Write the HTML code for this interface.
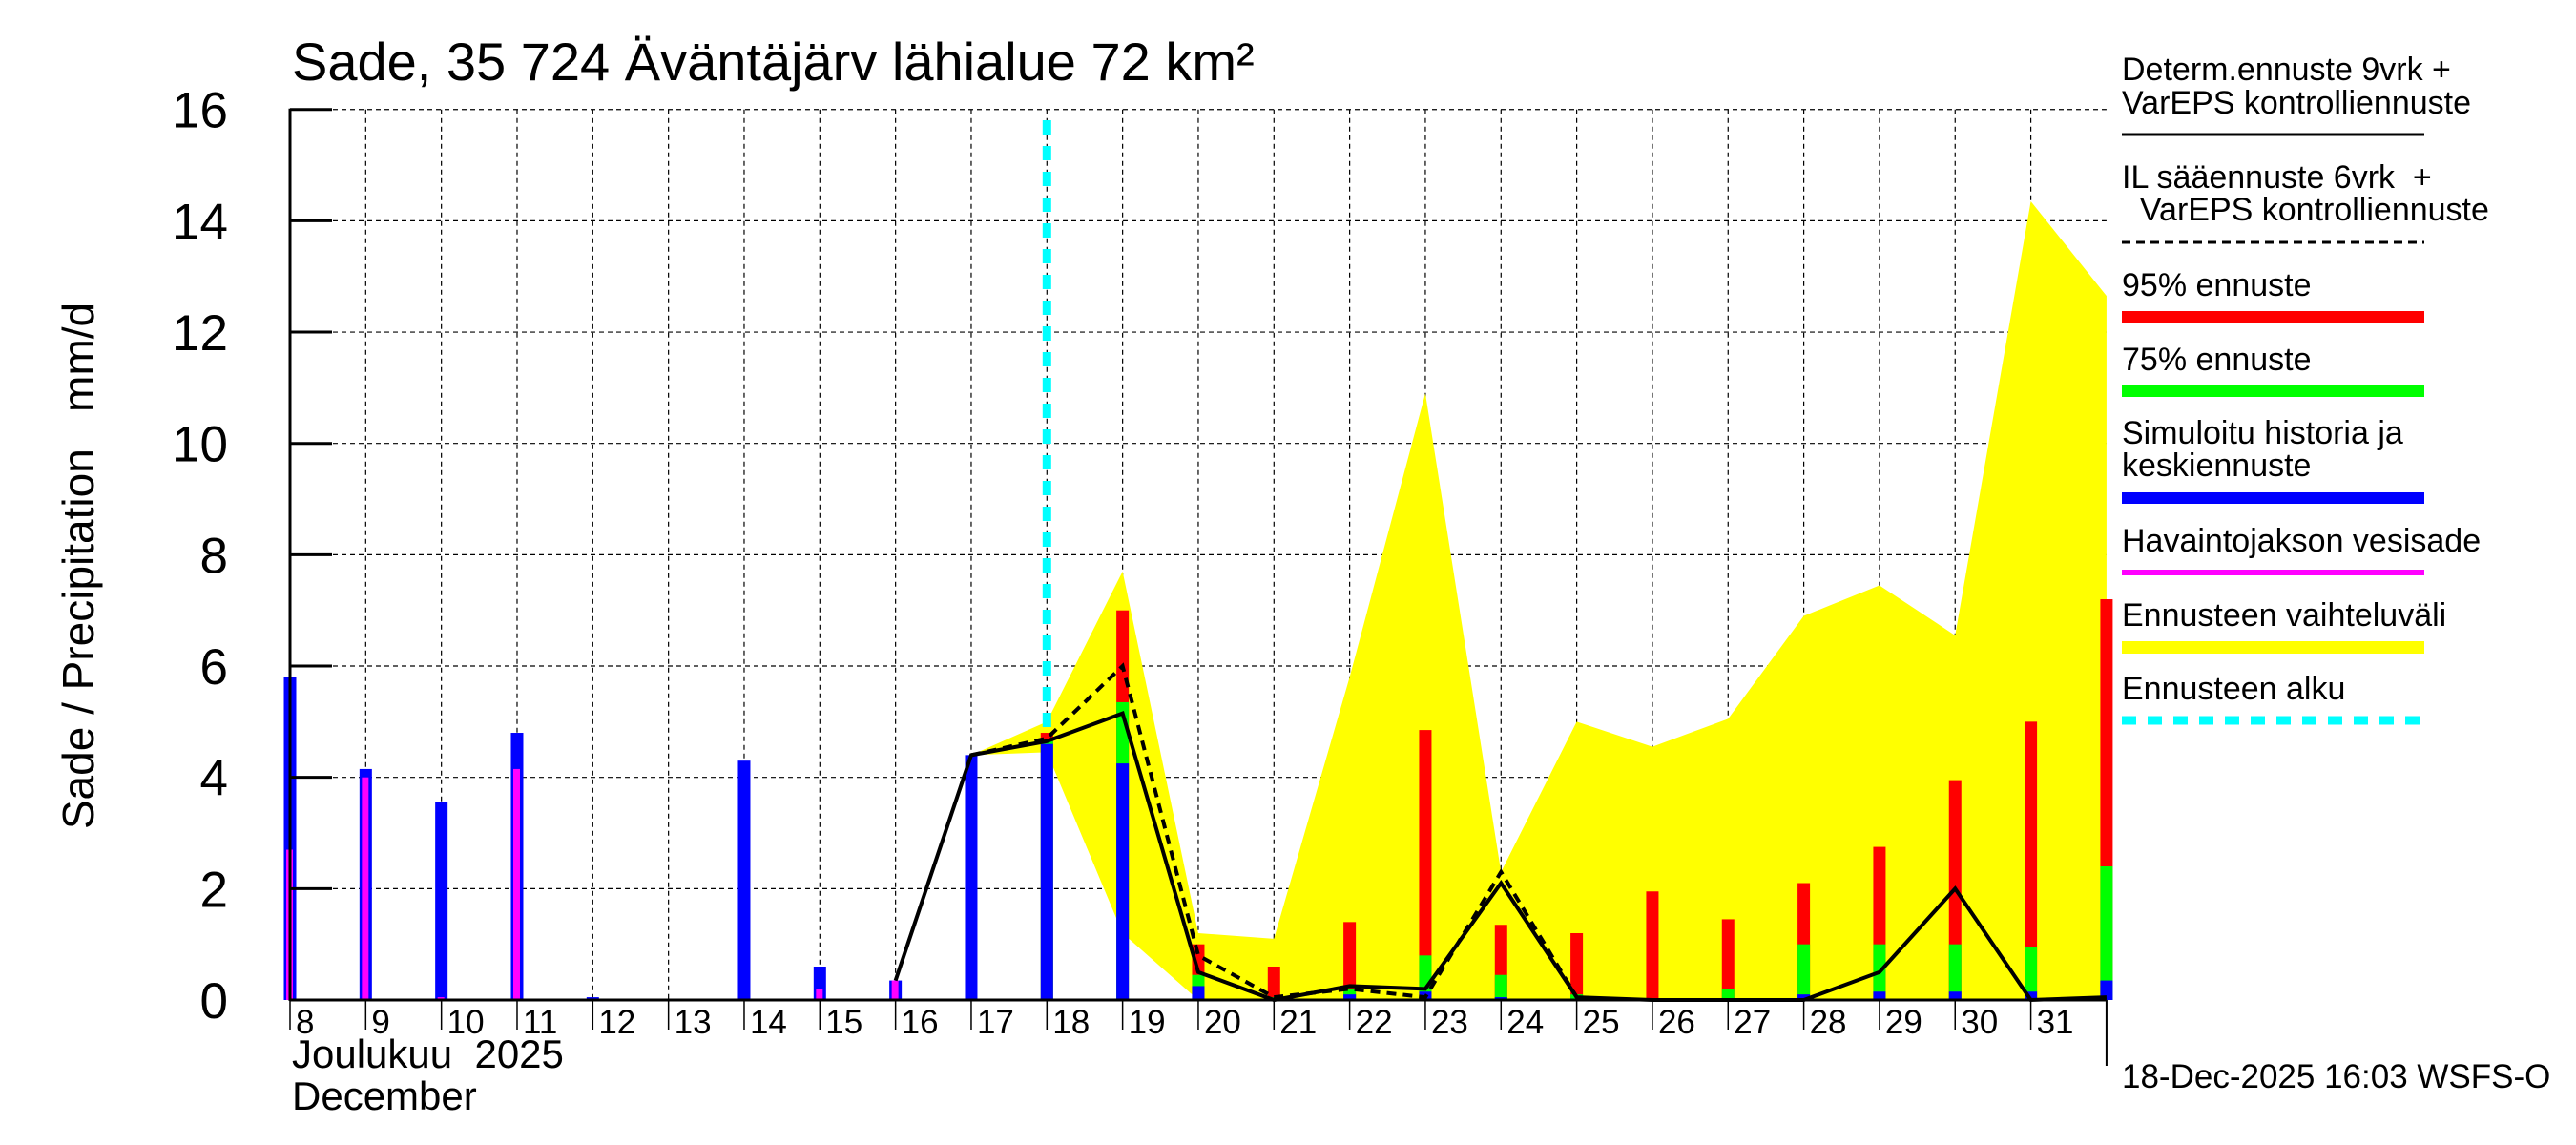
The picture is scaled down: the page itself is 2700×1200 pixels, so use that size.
<!DOCTYPE html>
<html><head><meta charset="utf-8"><style>
html,body{margin:0;padding:0;background:#fff;}
svg{display:block;font-family:"Liberation Sans",sans-serif;}
text{white-space:pre;}
</style></head><body>
<svg id="chart" width="2700" height="1200" viewBox="0 0 2700 1200" xmlns="http://www.w3.org/2000/svg" xml:space="preserve">
<text x="306" y="84" font-size="56">Sade, 35 724 Äväntäjärv lähialue 72 km²</text>
<text transform="translate(98,593) rotate(-90)" text-anchor="middle" font-size="46">Sade / Precipitation   mm/d</text>
<text x="306" y="1119" font-size="42">Joulukuu  2025</text>
<text x="306" y="1163" font-size="42">December</text>
<text x="2224" y="1140" font-size="35">18-Dec-2025 16:03 WSFS-O</text>
<g font-size="34">
<text x="2224" y="84">Determ.ennuste 9vrk +</text>
<text x="2224" y="119">VarEPS kontrolliennuste</text>
<line x1="2224" y1="141" x2="2541" y2="141" stroke="#000" stroke-width="3"/>
<text x="2224" y="197">IL sääennuste 6vrk  +</text>
<text x="2224" y="231">  VarEPS kontrolliennuste</text>
<line x1="2224" y1="254" x2="2541" y2="254" stroke="#000" stroke-width="3" stroke-dasharray="9,6"/>
<text x="2224" y="310">95% ennuste</text>
<rect x="2224" y="326" width="317" height="13" fill="#ff0000"/>
<text x="2224" y="388">75% ennuste</text>
<rect x="2224" y="403" width="317" height="13" fill="#00ff00"/>
<text x="2224" y="465">Simuloitu historia ja</text>
<text x="2224" y="499">keskiennuste</text>
<rect x="2224" y="516" width="317" height="12" fill="#0000ff"/>
<text x="2224" y="578">Havaintojakson vesisade</text>
<rect x="2224" y="597" width="317" height="6" fill="#ff00ff"/>
<text x="2224" y="656">Ennusteen vaihteluväli</text>
<rect x="2224" y="672" width="317" height="13" fill="#ffff00"/>
<text x="2224" y="733">Ennusteen alku</text>
<line x1="2224" y1="755" x2="2541" y2="755" stroke="#00ffff" stroke-width="9" stroke-dasharray="15,12"/>
</g>
<g id="plot"></g>
</svg>
<script>
const days = [8,9,10,11,12,13,14,15,16,17,18,19,20,21,22,23,24,25,26,27,28,29,30,31,32];
const blueVals = [5.8,4.15,3.55,4.8,0.05,0,4.3,0.6,0.35,4.4,4.6,4.25,0.25,0.02,0.1,0.15,0.05,0.02,0,0.02,0.1,0.15,0.15,0.15,0.35];
const greenVals = [0,0,0,0,0,0,0,0,0,0,4.65,5.35,0.45,0.05,0.2,0.8,0.45,0.1,0.02,0.2,1.0,1.0,1.0,0.95,2.4];
const redVals = [0,0,0,0,0,0,0,0,0,0,4.8,7.0,1.0,0.6,1.4,4.85,1.35,1.2,1.95,1.45,2.1,2.75,3.95,5.0,7.2];
const magentaVals = [2.7,4.0,0.05,4.15,0,0,0,0.2,0.35,0,0,0,0,0,0,0,0,0,0,0,0,0,0,0,0];
const bandDays = [17,18,19,20,21,22,23,24,25,26,27,28,29,30,31,32];
const bandUpper = [4.4,5.0,7.7,1.2,1.1,5.8,10.9,2.3,5.0,4.55,5.05,6.9,7.45,6.55,14.35,12.65];
const bandLower = [4.4,4.45,1.2,0,0,0,0,0,0,0,0,0,0,0,0,0];
const solidDays = [16,17,18,19,20,21,22,23,24,25,26,27,28,29,30,31,32];
const solidVals = [0.35,4.4,4.65,5.15,0.5,0.0,0.25,0.2,2.1,0.05,0,0,0,0.5,2.0,0,0.05];
const dashDays = [17,18,19,20,21,22,23,24,25];
const dashVals = [4.4,4.7,6.0,0.8,0.05,0.2,0.05,2.3,0.05];
const yTicks = [0,2,4,6,8,10,12,14,16];
const dayLabels = ["8","9","10","11","12","13","14","15","16","17","18","19","20","21","22","23","24","25","26","27","28","29","30","31"];
const forecastStart = 18;

const X0=304, DX=79.33, Y0=1048, DY=58.33;
const xs = d => X0 + (d-8)*DX;
const ys = v => Y0 - v*DY;
const NS="http://www.w3.org/2000/svg";
const plot=document.getElementById('plot');
function mk(tag, attrs, parent){const e=document.createElementNS(NS,tag);for(const k in attrs)e.setAttribute(k,attrs[k]);(parent||plot).appendChild(e);return e;}

for(const v of yTicks){ if(v>0){
  const g=mk('line',{x1:X0,x2:xs(32),y1:ys(v),y2:ys(v),stroke:'#000','stroke-width':1.2,'stroke-dasharray':'5,4'});
  
  
}}
for(let d=9; d<=31; d++){
  const g=mk('line',{x1:xs(d),x2:xs(d),y1:ys(16),y2:Y0,stroke:'#000','stroke-width':1.2,'stroke-dasharray':'5,4'});
  
  
}
let pts=bandDays.map((d,i)=>xs(d)+','+ys(bandUpper[i]));
for(let i=bandDays.length-1;i>=0;i--) pts.push(xs(bandDays[i])+','+ys(bandLower[i]));
const band=mk('polygon',{points:pts.join(' '),fill:'#ffff00'});


const BW=13;
days.forEach((d,i)=>{
  const x=xs(d)-BW/2;
  if(redVals[i]>0){const r=mk('rect',{x:x,y:ys(redVals[i]),width:BW,height:Y0-ys(redVals[i]),fill:'#ff0000'});
    
    }
  if(greenVals[i]>0){const r=mk('rect',{x:x,y:ys(greenVals[i]),width:BW,height:Y0-ys(greenVals[i]),fill:'#00ff00'});
    
    }
  if(blueVals[i]>0){const r=mk('rect',{x:x,y:ys(blueVals[i]),width:BW,height:Y0-ys(blueVals[i]),fill:'#0000ff'});
    
    }
  if(magentaVals[i]>0){const r=mk('rect',{x:xs(d)-4,y:ys(magentaVals[i]),width:7,height:Y0-ys(magentaVals[i]),fill:'#ff00ff'});
    
    }
});
const sl=mk('polyline',{points:solidDays.map((d,i)=>xs(d)+','+ys(solidVals[i])).join(' '),fill:'none',stroke:'#000','stroke-width':4});


const dl=mk('polyline',{points:dashDays.map((d,i)=>xs(d)+','+ys(dashVals[i])).join(' '),fill:'none',stroke:'#000','stroke-width':4,'stroke-dasharray':'10,7'});


const fs=mk('line',{x1:xs(forecastStart),x2:xs(forecastStart),y1:126,y2:ys(4.9),stroke:'#00ffff','stroke-width':9,'stroke-dasharray':'15,12'});


const ax=mk('line',{x1:X0,x2:X0,y1:ys(16)-1,y2:Y0+1,stroke:'#000','stroke-width':3});


const bx=mk('line',{x1:X0,x2:xs(32),y1:Y0,y2:Y0,stroke:'#000','stroke-width':3});


const rl=mk('line',{x1:xs(32),x2:xs(32),y1:Y0,y2:1117,stroke:'#000','stroke-width':2});


for(const v of yTicks){
  const t=mk('line',{x1:X0,x2:X0+44,y1:ys(v),y2:ys(v),stroke:'#000','stroke-width':3});
  
  
  const l=mk('text',{x:239,y:ys(v)+19,'text-anchor':'end','font-size':53});
  l.textContent=v;
  
  
}
dayLabels.forEach((s,i)=>{
  const d=8+i;
  const t=mk('line',{x1:xs(d),x2:xs(d),y1:Y0,y2:1079,stroke:'#000','stroke-width':1.5});
  
  
  const l=mk('text',{x:xs(d)+6,y:1083,'font-size':35});
  l.textContent=s;
  
  
});
</script>
</body></html>
